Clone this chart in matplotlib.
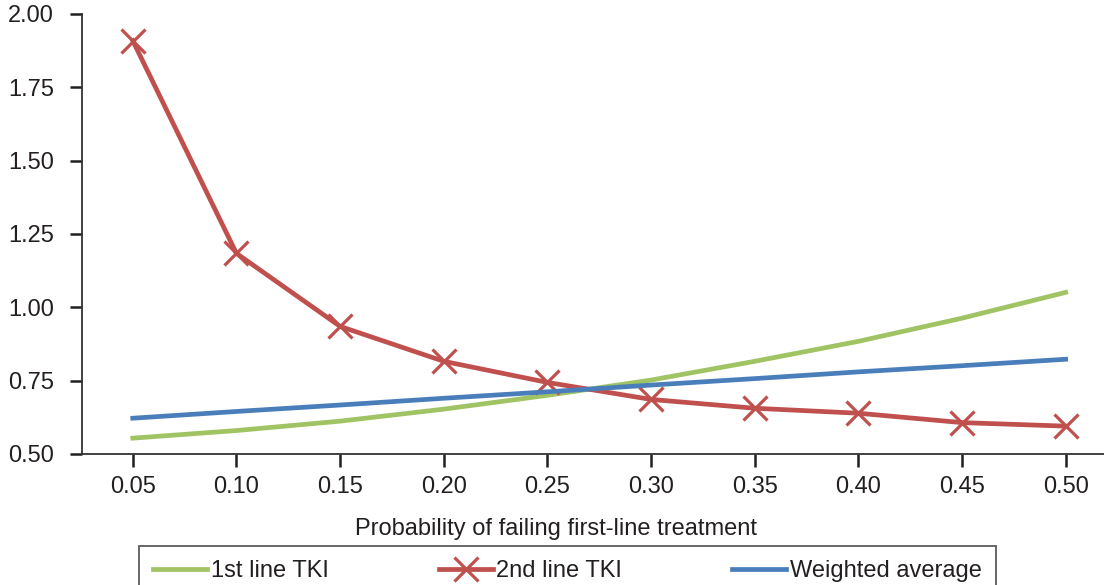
import matplotlib.pyplot as plt

plt.rcParams['font.family'] = ['Liberation Sans', 'DejaVu Sans']

# 数据
probs = ['0.05', '0.10', '0.15', '0.20', '0.25', '0.30', '0.35', '0.40', '0.45', '0.50']
first_line = [0.554, 0.580, 0.612, 0.653, 0.700, 0.752, 0.816, 0.884, 0.963, 1.051]
second_line = [1.909, 1.184, 0.935, 0.816, 0.744, 0.686, 0.656, 0.639, 0.607, 0.595]
weighted = [0.622, 0.645, 0.667, 0.690, 0.712, 0.735, 0.757, 0.780, 0.801, 0.823]
yticks = [0.50, 0.75, 1.00, 1.25, 1.50, 1.75, 2.00]

green = '#a0c364'
red = '#c0504d'
blue = '#4a7ebb'
txt = '#231f20'

fig = plt.figure(figsize=(11.04, 5.85), dpi=100)
ax = fig.add_axes([82/1104, 1 - 454/585, 1 - 82/1104, 440/585])

x = list(range(len(probs)))
ax.plot(x, first_line, color=green, linewidth=3.4, label='1st line TKI')
ax.plot(x, second_line, color=red, linewidth=3.4, marker='x', markersize=17,
        markeredgewidth=2.3, label='2nd line TKI')
ax.plot(x, weighted, color=blue, linewidth=3.4, label='Weighted average')

ax.set_xlim(-0.49, 9.37)
ax.set_ylim(0.5, 2.0)
ax.set_xticks(x)
ax.set_xticklabels(probs)
ax.set_yticks(yticks)
ax.set_yticklabels(['%.2f' % v for v in yticks])

for s in ['top', 'right']:
    ax.spines[s].set_visible(False)
for s in ['left', 'bottom']:
    ax.spines[s].set_color('#333333')
    ax.spines[s].set_linewidth(1.3)

ax.tick_params(axis='both', labelsize=17, colors=txt, length=9, width=1.8, direction='out')
ax.tick_params(axis='x', pad=7)
ax.tick_params(axis='y', pad=11)

ax.set_xlabel('Probability of failing first-line treatment', fontsize=17, color=txt, labelpad=12)
ax.xaxis.set_label_coords(0.464, -0.145)

leg = fig.legend(loc='upper left', bbox_to_anchor=(139/1104, 1 - 546/585, 857/1104, 0),
                 mode='expand', ncol=3, fontsize=17, frameon=True, fancybox=False,
                 borderaxespad=0, handlelength=2.3, handletextpad=0.15,
                 borderpad=0.6, edgecolor='#333333')
leg.get_frame().set_linewidth(1.3)
for t in leg.get_texts():
    t.set_color(txt)

fig.savefig('out.png', dpi=100)
